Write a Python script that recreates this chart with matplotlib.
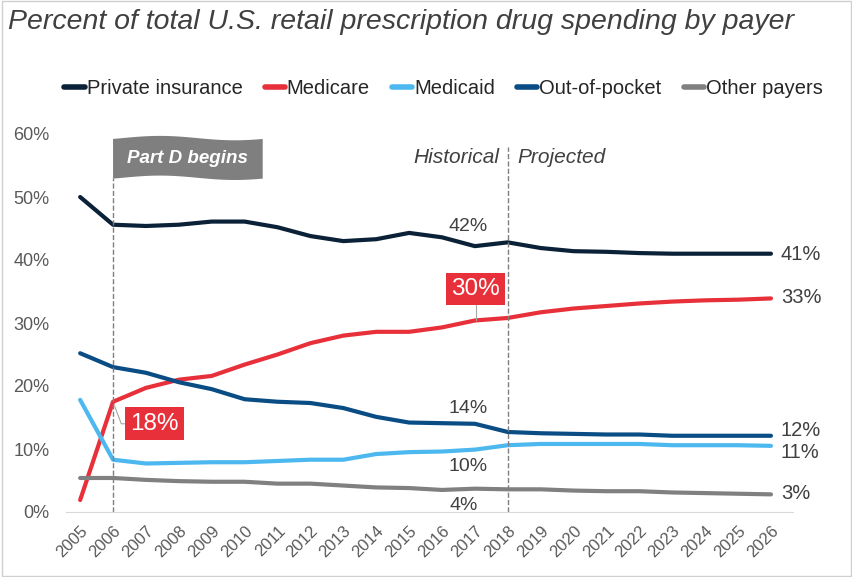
import numpy as np
import matplotlib.pyplot as plt
from matplotlib.patches import Polygon, Rectangle

plt.rcParams['font.family'] = ['Liberation Sans', 'DejaVu Sans']

# ---- data ----
years = list(range(2005, 2027))
private_ins = [50.0, 45.6, 45.4, 45.6, 46.1, 46.1, 45.2, 43.8, 43.0, 43.3, 44.3, 43.6,
               42.2, 42.8, 41.9, 41.4, 41.3, 41.1, 41.0, 41.0, 41.0, 41.0]
medicare = [1.9, 17.5, 19.7, 21.0, 21.6, 23.4, 25.0, 26.8, 28.0, 28.6, 28.6, 29.3,
            30.4, 30.8, 31.7, 32.3, 32.7, 33.1, 33.4, 33.6, 33.7, 33.9]
medicaid = [17.8, 8.3, 7.7, 7.8, 7.9, 7.9, 8.1, 8.3, 8.3, 9.2, 9.5, 9.6,
            9.9, 10.6, 10.8, 10.8, 10.8, 10.8, 10.6, 10.6, 10.6, 10.5]
out_of_pocket = [25.2, 23.0, 22.1, 20.6, 19.5, 17.9, 17.5, 17.3, 16.5, 15.1, 14.2, 14.1,
                 14.0, 12.7, 12.5, 12.4, 12.3, 12.3, 12.1, 12.1, 12.1, 12.1]
other_payers = [5.4, 5.4, 5.1, 4.9, 4.8, 4.8, 4.5, 4.5, 4.2, 3.9, 3.8, 3.5,
                3.7, 3.6, 3.6, 3.4, 3.3, 3.3, 3.1, 3.0, 2.9, 2.8]

series = [
    ('Private insurance', private_ins, '#0b2137'),
    ('Medicare', medicare, '#e8303a'),
    ('Medicaid', medicaid, '#4db8f0'),
    ('Out-of-pocket', out_of_pocket, '#0a4d85'),
    ('Other payers', other_payers, '#808080'),
]
end_labels = ['41%', '33%', '11%', '12%', '3%']
end_label_y = [40.8, 34.0, 9.5, 13.0, 3.0]

fig = plt.figure(figsize=(8.53, 5.77), dpi=100)
fig.patches.append(Rectangle((0.002, 0.002), 0.996, 0.996, transform=fig.transFigure,
                             fill=False, edgecolor='#cfcfcf', lw=1))
ax = fig.add_axes([66 / 853, 1 - 512 / 577, 727 / 853, 378 / 577])

for name, vals, col in series:
    ax.plot(years, vals, color=col, lw=3.0, label=name, solid_capstyle='round')

ax.set_xlim(2004.57, 2026.67)
ax.set_ylim(0, 60)
ax.set_yticks(range(0, 61, 10))
ax.set_yticklabels([f'{v}%' for v in range(0, 61, 10)])
ax.set_xticks(years)
ax.set_xticklabels([str(y) for y in years], rotation=45, ha='right', rotation_mode='anchor')
ax.tick_params(axis='y', length=0, pad=12, labelsize=13, labelcolor='#595959')
ax.tick_params(axis='x', length=0, pad=8, labelsize=12, labelcolor='#595959')
for s in ['top', 'right', 'left']:
    ax.spines[s].set_visible(False)
ax.spines['bottom'].set_color('#d9d9d9')

# historical / projected split and Part D marker
ax.plot([2018, 2018], [0, 58], ls='--', color='#7f7f7f', lw=1)
ax.plot([2006, 2006], [0, 53.0], ls='--', color='#7f7f7f', lw=1)
ax.text(2017.75, 56.2, 'Historical', ha='right', va='center', fontsize=15,
        style='italic', color='#404040')
ax.text(2018.3, 56.2, 'Projected', ha='left', va='center', fontsize=15,
        style='italic', color='#404040')

# wavy flag
fx = np.linspace(2006, 2010.55, 60)
ph = (fx - 2006) / 4.55 * 2 * np.pi
top = 59.35 + 0.35 * np.sin(ph - 0.4)
bot = 53.05 + 0.35 * np.sin(ph - 0.4)
flag = np.vstack([np.column_stack([fx, top]), np.column_stack([fx[::-1], bot[::-1]])])
ax.add_patch(Polygon(flag, closed=True, color='#7f7f7f', lw=0))
ax.text(2008.25, 56.1, 'Part D begins', ha='center', va='center', fontsize=13.5,
        style='italic', weight='bold', color='white')

# point labels
txt = dict(fontsize=14, color='#404040', ha='center', va='center')
ax.text(2016.8, 45.3, '42%', **txt)
ax.text(2016.8, 16.5, '14%', **txt)
ax.text(2016.8, 7.3, '10%', **txt)
ax.text(2016.65, 1.1, '4%', **txt)
for lab, yv in zip(end_labels, end_label_y):
    ax.text(2026.3, yv, lab, fontsize=14.5, color='#404040', ha='left', va='center')

# callout boxes
box = dict(boxstyle='square,pad=0.22', fc='#e8303a', ec='none')
ax.plot([2017.02, 2017.02], [33.0, 30.4], color='#a6a6a6', lw=0.8)
ax.text(2017.02, 35.4, '30%', fontsize=17.5, color='white', ha='center', va='center', bbox=box)
ax.plot([2006.05, 2006.25, 2006.45], [16.8, 14.0, 14.0], color='#a6a6a6', lw=0.8)
ax.text(2007.25, 14.0, '18%', fontsize=17.5, color='white', ha='center', va='center', bbox=box)

# legend and title
fig.legend(loc='center', bbox_to_anchor=(0.52, 1 - 89 / 577), ncol=5, frameon=False,
           fontsize=14.5, handlelength=1.0, handletextpad=0.1, columnspacing=1.1,
           labelcolor='#262626')
for h in fig.legends[0].legend_handles:
    h.set_linewidth(4)
fig.text(8 / 853, 1 - 22 / 577, 'Percent of total U.S. retail prescription drug spending by payer',
         fontsize=20.5, style='italic', color='#404040', ha='left', va='center')

fig.savefig('out.png', dpi=100)
